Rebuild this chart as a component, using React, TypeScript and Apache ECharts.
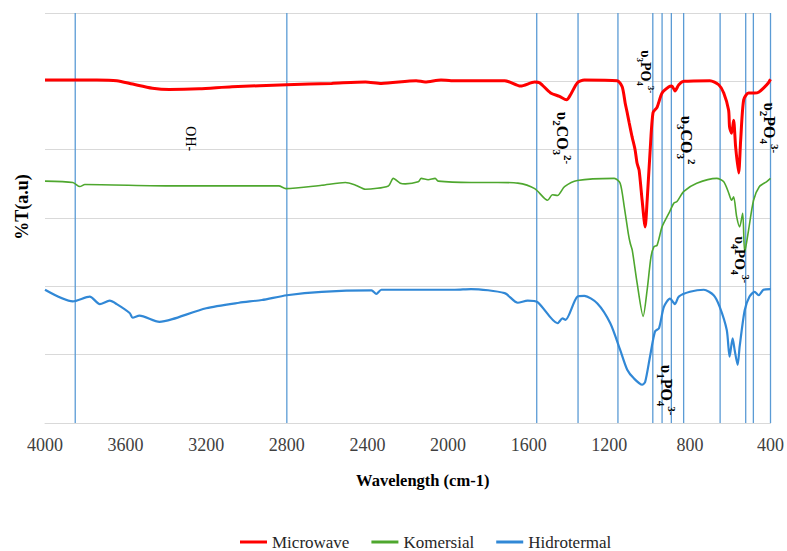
import React, { useEffect, useRef } from 'react';
import * as echarts from 'echarts';

// [wavenumber (cm-1), %T (arbitrary units, stacked offsets)]
const microwave: [number, number][] = [
  [4000, 5.02], [3743, 5.02], [3644, 5.01], [3565, 4.96], [3467, 4.9], [3383, 4.88], [3235, 4.89],
  [3072, 4.92], [2800, 4.95], [2578, 4.97], [2410, 4.99], [2331, 4.97], [2158, 5.01], [2114, 4.99],
  [2035, 5.02], [1985, 5.01], [1719, 5.01], [1640, 4.93], [1570, 4.99], [1546, 4.98], [1491, 4.83],
  [1447, 4.78], [1412, 4.73], [1393, 4.8], [1358, 4.98], [1324, 5.02], [1161, 5.01], [1136, 4.92],
  [1121, 4.68], [1111, 4.54], [1101, 4.39], [1087, 4.19], [1072, 4.0], [1062, 3.8], [1052, 3.7],
  [1037, 3.26], [1022, 2.87], [1012, 3.26], [998, 3.95], [983, 4.54], [963, 4.62], [938, 4.83],
  [904, 4.92], [889, 4.93], [874, 4.86], [855, 4.95], [830, 5.0], [701, 5.01], [657, 4.95],
  [632, 4.83], [608, 4.58], [603, 4.33], [593, 4.24], [583, 4.43], [573, 4.04], [558, 3.66],
  [548, 4.14], [533, 4.73], [509, 4.83], [479, 4.83], [459, 4.84], [435, 4.9], [410, 4.98], [400, 5.03],
];

const komersial: [number, number][] = [
  [4000, 3.54], [3862, 3.52], [3827, 3.46], [3802, 3.49], [3368, 3.47], [2840, 3.47], [2805, 3.43],
  [2627, 3.48], [2509, 3.52], [2459, 3.48], [2410, 3.42], [2296, 3.47], [2272, 3.58], [2237, 3.51],
  [2212, 3.5], [2148, 3.53], [2133, 3.58], [2099, 3.56], [2064, 3.58], [2049, 3.54], [1886, 3.52],
  [1753, 3.52], [1654, 3.51], [1570, 3.43], [1506, 3.26], [1482, 3.34], [1457, 3.33], [1422, 3.46],
  [1358, 3.55], [1175, 3.58], [1146, 3.51], [1126, 3.17], [1106, 2.78], [1096, 2.63], [1086, 2.53],
  [1062, 2.05], [1032, 1.56], [1012, 1.95], [993, 2.43], [978, 2.58], [963, 2.6], [938, 2.87],
  [904, 3.07], [879, 3.22], [864, 3.24], [830, 3.39], [766, 3.51], [667, 3.58], [632, 3.53],
  [608, 3.37], [593, 3.26], [583, 3.31], [568, 3.02], [553, 2.87], [538, 3.07], [528, 2.5],
  [509, 2.82], [484, 3.26], [455, 3.46], [420, 3.53], [400, 3.58],
];

const hidrotermal: [number, number][] = [
  [4000, 1.95], [3862, 1.78], [3778, 1.85], [3728, 1.74], [3679, 1.79], [3644, 1.74], [3580, 1.61],
  [3565, 1.54], [3531, 1.57], [3432, 1.48], [3368, 1.52], [3200, 1.68], [3037, 1.76], [2924, 1.8],
  [2800, 1.87], [2627, 1.92], [2380, 1.94], [2356, 1.89], [2331, 1.95], [1966, 1.95], [1886, 1.96],
  [1719, 1.9], [1654, 1.76], [1605, 1.79], [1556, 1.77], [1457, 1.46], [1432, 1.53], [1417, 1.51],
  [1358, 1.85], [1324, 1.86], [1259, 1.75], [1195, 1.46], [1146, 1.07], [1111, 0.78], [1077, 0.65],
  [1037, 0.56], [1022, 0.6], [998, 0.97], [973, 1.34], [953, 1.39], [929, 1.7], [899, 1.82],
  [874, 1.74], [855, 1.85], [800, 1.92], [731, 1.95], [682, 1.87], [652, 1.7], [617, 1.36],
  [603, 0.97], [588, 1.24], [578, 1.07], [563, 0.85], [553, 1.12], [528, 1.65], [504, 1.85],
  [479, 1.92], [459, 1.87], [435, 1.95], [400, 1.96],
];

const seriesNames = ['Microwave', 'Komersial', 'Hidrotermal'];
const seriesColors = ['#FF0000', '#4EA72E', '#3188D6'];
const seriesWidths = [3, 1.6, 2.2];

// vertical reference lines (cm-1)
const peakLines = [3850, 2800, 1560, 1355, 1157, 984, 938, 892, 831, 650, 523, 485, 400];

// band assignments: [wavenumber, value, label parts]
type Part = [string, string];
const annotations: { w: number; v: number; size: number; bold: boolean; parts: Part[] }[] = [
  { w: 3279, v: 4.16, size: 14, bold: false, parts: [['n', 'OH-']] },
  { w: 1469, v: 4.17, size: 16, bold: true, parts: [['n', 'υ'], ['s', '2'], ['n', 'CO'], ['s', '3'], ['p', '2-']] },
  { w: 1057, v: 5.14, size: 14, bold: true, parts: [['n', 'υ'], ['s', '3'], ['n', 'PO'], ['s', '4'], ['p', '3-']] },
  { w: 854, v: 4.14, size: 16, bold: true, parts: [['n', 'υ'], ['s', '3'], ['n', 'CO'], ['s', '3'], ['p', '2']] },
  { w: 440, v: 4.32, size: 16, bold: true, parts: [['n', 'υ'], ['s', '2'], ['n', 'PO'], ['s', '4'], ['p', '3-']] },
  { w: 588, v: 2.39, size: 15, bold: true, parts: [['n', 'υ'], ['s', '4'], ['n', 'PO'], ['s', '4'], ['p', '3-']] },
  { w: 953, v: 0.48, size: 16, bold: true, parts: [['n', 'υ'], ['s', '1'], ['n', 'PO'], ['s', '4'], ['p', '3-']] },
];

const SERIF = "'Liberation Serif', 'Times New Roman', serif";

export default function App() {
  const ref = useRef<HTMLDivElement>(null);
  useEffect(() => {
    if (!ref.current) return;
    const chart = echarts.init(ref.current, undefined, { renderer: 'svg' });
    const dataSets = [microwave, komersial, hidrotermal];
    const curveSeries = dataSets.map((d, i) => ({
      name: seriesNames[i],
      type: 'line',
      data: d,
      showSymbol: false,
      symbol: 'none',
      smooth: 0.25,
      z: 3,
      lineStyle: { color: seriesColors[i], width: seriesWidths[i] },
      itemStyle: { color: seriesColors[i] },
    }));
    const lineSeries = peakLines.map((w, i) => ({
      name: 'ref' + i,
      type: 'line',
      data: [[w, 0], [w, 6]],
      symbol: 'none',
      z: 1,
      silent: true,
      lineStyle: { color: '#5B9BD5', width: 1.3 },
    }));
    chart.setOption({
      animation: false,
      grid: { left: 45, right: 12, top: 13, bottom: 128, containLabel: false },
      legend: {
        data: seriesNames,
        left: 240,
        top: 533,
        padding: 0,
        icon: 'rect',
        itemWidth: 27,
        itemHeight: 3,
        itemGap: 22,
        textStyle: { fontFamily: SERIF, fontSize: 17, lineHeight: 18, color: '#262626' },
      },
      xAxis: {
        type: 'value',
        inverse: true,
        min: 400,
        max: 4000,
        interval: 400,
        name: 'Wavelength (cm-1)',
        nameLocation: 'middle',
        nameGap: 49,
        nameTextStyle: {
          fontFamily: SERIF, fontSize: 16.5, fontWeight: 'bold', color: '#000',
          padding: [0, 0, 0, 30],
        },
        axisLabel: {
          fontFamily: SERIF, fontSize: 18, color: '#404040', margin: 13,
          formatter: (v: number) => String(v),
        },
        axisTick: { show: false },
        splitLine: { show: false },
        axisLine: { lineStyle: { color: '#D9D9D9', width: 1 } },
      },
      yAxis: {
        type: 'value',
        min: 0,
        max: 6,
        interval: 1,
        name: '%T(a.u)',
        nameLocation: 'middle',
        nameGap: 14,
        nameTextStyle: {
          fontFamily: SERIF, fontSize: 18, fontWeight: 'bold', color: '#000',
          padding: [0, 0, 0, 22],
        },
        axisLabel: { show: false },
        axisTick: { show: false },
        axisLine: { show: false },
        splitLine: { lineStyle: { color: '#D9D9D9', width: 1 } },
      },
      series: [...lineSeries, ...curveSeries],
    });

    const elements = annotations.map((a) => {
      const [px, py] = chart.convertToPixel({ gridIndex: 0 }, [a.w, a.v]) as number[];
      const small = Math.round(a.size * 0.66);
      const hasScripts = a.parts.length > 1;
      const fw = a.bold ? 'bold' : 'normal';
      return {
        type: 'text',
        x: px + (hasScripts ? 7 : 0),
        y: py,
        rotation: -Math.PI / 2,
        z: 10,
        style: {
          text: a.parts.map(([k, t]) => `{${k}|${t}}`).join(''),
          align: 'center',
          verticalAlign: 'middle',
          fill: '#000',
          rich: {
            n: { fontFamily: SERIF, fontWeight: fw, fontSize: a.size, fill: '#000', color: '#000', lineHeight: a.size + 6 },
            s: { fontFamily: SERIF, fontWeight: fw, fontSize: small, fill: '#000', color: '#000', verticalAlign: 'bottom' },
            p: { fontFamily: SERIF, fontWeight: fw, fontSize: small, fill: '#000', color: '#000', verticalAlign: 'top' },
          },
        },
      };
    });
    chart.setOption({ graphic: { elements } });

    return () => chart.dispose();
  }, []);
  return <div ref={ref} style={{ position: 'absolute', left: 0, top: 0, width: 787, height: 551 }} />;
}
